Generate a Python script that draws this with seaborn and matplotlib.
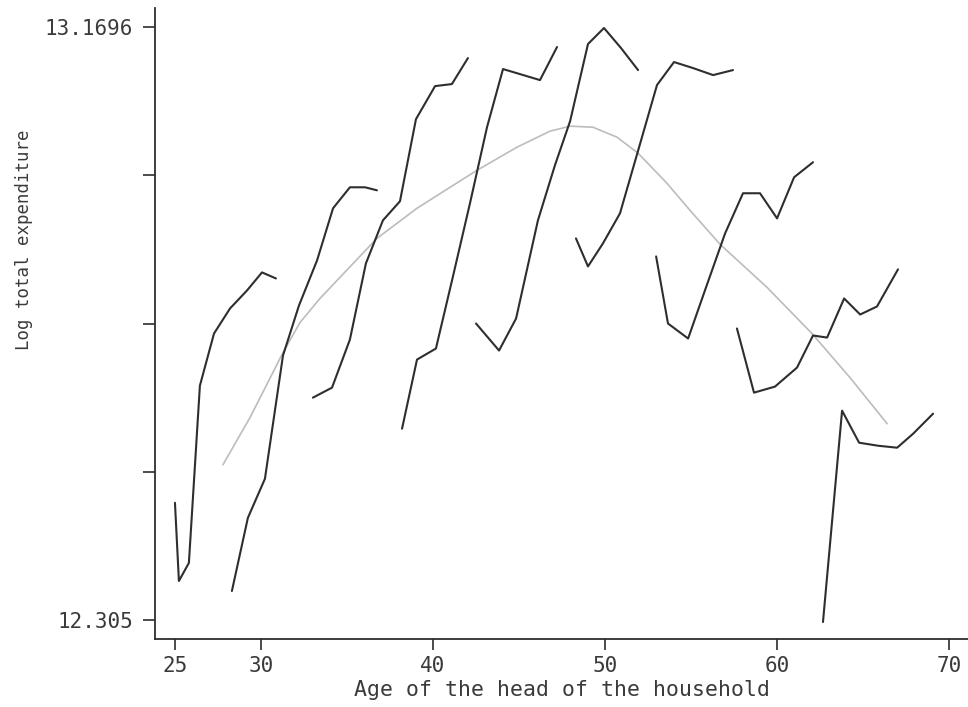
import numpy as np
import pandas as pd
import matplotlib
matplotlib.use("Agg")
import matplotlib.pyplot as plt
import seaborn as sns

# ---- data: cohort profiles (age, log total expenditure) ----
c1_age = [25.00, 25.23, 25.81, 26.45, 27.27, 28.20, 29.19, 30.06, 30.87]
c1_val = [12.4759, 12.3619, 12.3882, 12.6467, 12.7227, 12.7592, 12.7855, 12.8118, 12.8030]

c2_age = [28.31, 29.24, 30.23, 31.28, 32.21, 33.26, 34.19, 35.17, 36.05, 36.74]
c2_val = [12.3473, 12.4540, 12.5109, 12.6906, 12.7636, 12.8293, 12.9053, 12.9359, 12.9359, 12.9315]

c3_age = [33.02, 34.13, 35.17, 36.10, 37.09, 38.08, 39.01, 40.12, 41.10, 42.03]
c3_val = [12.6292, 12.6438, 12.7139, 12.8249, 12.8877, 12.9155, 13.0352, 13.0834, 13.0864, 13.1243]

c4_age = [38.20, 39.07, 40.17, 41.16, 42.15, 43.14, 44.07, 46.22, 47.21]
c4_val = [12.5839, 12.6847, 12.7008, 12.8059, 12.9126, 13.0235, 13.1083, 13.0922, 13.1404]

c5_age = [42.50, 43.84, 44.83, 46.10, 47.09, 47.97, 49.01, 49.94, 50.93, 51.92]
c5_val = [12.7373, 12.6979, 12.7446, 12.8877, 12.9681, 13.0323, 13.1448, 13.1681, 13.1389, 13.1068]

c6_age = [48.31, 49.01, 49.88, 50.87, 51.98, 53.02, 54.01, 55.12, 56.28, 57.44]
c6_val = [12.8614, 12.8205, 12.8541, 12.8979, 12.9943, 13.0849, 13.1185, 13.1097, 13.0995, 13.1068]

c7_age = [52.97, 53.66, 54.83, 55.87, 56.98, 58.02, 59.01, 60.00, 60.99, 62.09]
c7_val = [12.8351, 12.7373, 12.7154, 12.7899, 12.8687, 12.9272, 12.9272, 12.8906, 12.9505, 12.9724]

c8_age = [57.67, 58.66, 59.88, 61.16, 62.09, 62.91, 63.90, 64.83, 65.81, 67.03]
c8_val = [12.7300, 12.6365, 12.6453, 12.6730, 12.7198, 12.7168, 12.7738, 12.7504, 12.7621, 12.8162]

c9_age = [62.67, 63.78, 64.77, 65.87, 66.98, 67.91, 69.07]
c9_val = [12.3021, 12.6102, 12.5635, 12.5591, 12.5562, 12.5766, 12.6058]

# smooth age profile (grey)
fit_age = [27.79, 29.36, 31.28, 32.27, 33.43, 34.59, 36.74, 39.07, 40.99, 42.56, 44.88,
           46.80, 47.97, 49.30, 50.70, 51.92, 53.60, 54.94, 56.69, 59.42, 62.03, 64.24, 66.40]
fit_val = [12.5314, 12.6000, 12.6949, 12.7388, 12.7738, 12.8045, 12.8614, 12.9053, 12.9359,
           12.9607, 12.9943, 13.0177, 13.0250, 13.0235, 13.0089, 12.9856, 12.9418, 12.9023,
           12.8527, 12.7899, 12.7227, 12.6584, 12.5912]

y_min, y_max = 12.305, 13.1696
x_ticks = [25, 30, 40, 50, 60, 70]

cohorts = [(c1_age, c1_val), (c2_age, c2_val), (c3_age, c3_val), (c4_age, c4_val),
           (c5_age, c5_val), (c6_age, c6_val), (c7_age, c7_val), (c8_age, c8_val),
           (c9_age, c9_val)]

frames = []
for i, (a, v) in enumerate(cohorts):
    frames.append(pd.DataFrame({"age": a, "lexp": v, "cohort": i + 1}))
df = pd.concat(frames, ignore_index=True)
fit_df = pd.DataFrame({"age": fit_age, "lexp": fit_val})

# ---- plot ----
sns.set_style("ticks")
plt.rcParams["font.family"] = ["DejaVu Sans Mono", "DejaVu Sans"]
txt = "#3a3a3a"

fig = plt.figure(figsize=(9.68, 7.07), dpi=100)
ax = fig.add_axes([155 / 968, 1 - 639 / 707, 813 / 968, 631 / 707])

sns.lineplot(data=fit_df, x="age", y="lexp", ax=ax, color="#bcbcbc", lw=1.2,
             sort=False, estimator=None)
sns.lineplot(data=df, x="age", y="lexp", units="cohort", estimator=None, sort=False,
             ax=ax, color="#2e2e2e", lw=1.5)

ax.set_xlim(23.84, 71.1)
ax.set_ylim(12.2773, 13.1973)

ax.set_xticks(x_ticks)
ax.set_xticklabels([str(t) for t in x_ticks])
yt = np.linspace(y_min, y_max, 5)
ax.set_yticks(yt)
ax.set_yticklabels([f"{y_min:g}", "", "", "", f"{y_max:g}"])

for s in ["top", "right"]:
    ax.spines[s].set_visible(False)
for s in ["left", "bottom"]:
    ax.spines[s].set_color("#2e2e2e")
    ax.spines[s].set_linewidth(1.3)

ax.tick_params(axis="both", colors="#2e2e2e", labelcolor=txt, labelsize=15, width=1.2)
ax.tick_params(axis="y", length=9, pad=7)
ax.tick_params(axis="x", length=8, pad=4)

ax.set_xlabel("Age of the head of the household", fontsize=15.5, color=txt, labelpad=3)
ax.set_ylabel("Log total expenditure", fontsize=12.5, color=txt)
ax.yaxis.set_label_coords(-0.15, 0.632)

fig.savefig("out.png", dpi=100, facecolor="white")
